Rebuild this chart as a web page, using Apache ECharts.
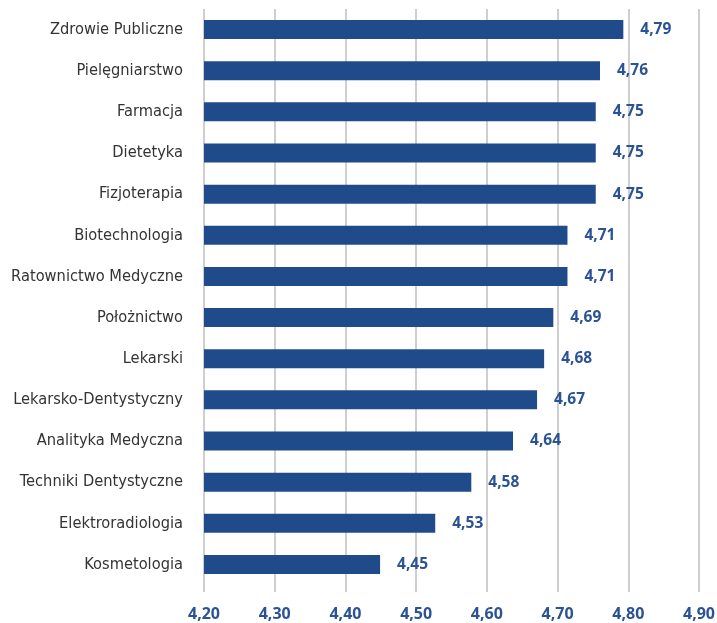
<!DOCTYPE html>
<html>
<head>
<meta charset="utf-8">
<script src="https://cdn.jsdelivr.net/npm/echarts@6/dist/echarts.min.js"></script>
<style>html,body{margin:0;padding:0;background:#fff}#c{width:717px;height:623px}</style>
</head>
<body>
<div id="c"></div>
<script>
const categories = ["Zdrowie Publiczne","Pielęgniarstwo","Farmacja","Dietetyka","Fizjoterapia","Biotechnologia","Ratownictwo Medyczne","Położnictwo","Lekarski","Lekarsko-Dentystyczny","Analityka Medyczna","Techniki Dentystyczne","Elektroradiologia","Kosmetologia"];
const values = [4.793,4.760,4.754,4.754,4.754,4.714,4.714,4.694,4.681,4.671,4.637,4.578,4.527,4.449];
const tickLabels = ["4,20","4,30","4,40","4,50","4,60","4,70","4,80","4,90"];

const blue = '#1F4B8B';
const labelBlue = '#2B5394';
const chart = echarts.init(document.getElementById('c'), null, {renderer:'canvas'});
chart.setOption({
  animation:false,
  grid:{left:204, right:18, top:9, bottom:38, containLabel:false, outerBoundsMode:'none'},
  xAxis:{
    type:'value', min:4.2, max:4.9, interval:0.1,
    axisLine:{show:false},
    axisTick:{show:true, length:7, inside:false, lineStyle:{color:'#BFBFBF', width:1.5}},
    splitLine:{show:true, lineStyle:{color:'#BFBFBF', width:1.5}},
    axisLabel:{margin:21, color:labelBlue, fontFamily:'Open Sans', fontWeight:'bold', fontSize:16,
      formatter:(v)=>{const i=Math.round((v-4.2)*10); return tickLabels[i]||'';}}
  },
  yAxis:{
    type:'category', data:categories, inverse:true,
    axisLine:{show:false}, axisTick:{show:false},
    axisLabel:{margin:21, color:'#333333', fontFamily:'DejaVu Sans Condensed', fontSize:16.3}
  },
  series:[{
    type:'bar', data:values, barWidth:19,
    itemStyle:{color:blue},
    label:{show:true, position:'right', distance:17, color:labelBlue, fontFamily:'Open Sans', fontWeight:'bold', fontSize:15.5,
      formatter:(p)=>p.value.toFixed(2).replace('.',',')}
  }]
});
</script>
</body>
</html>
